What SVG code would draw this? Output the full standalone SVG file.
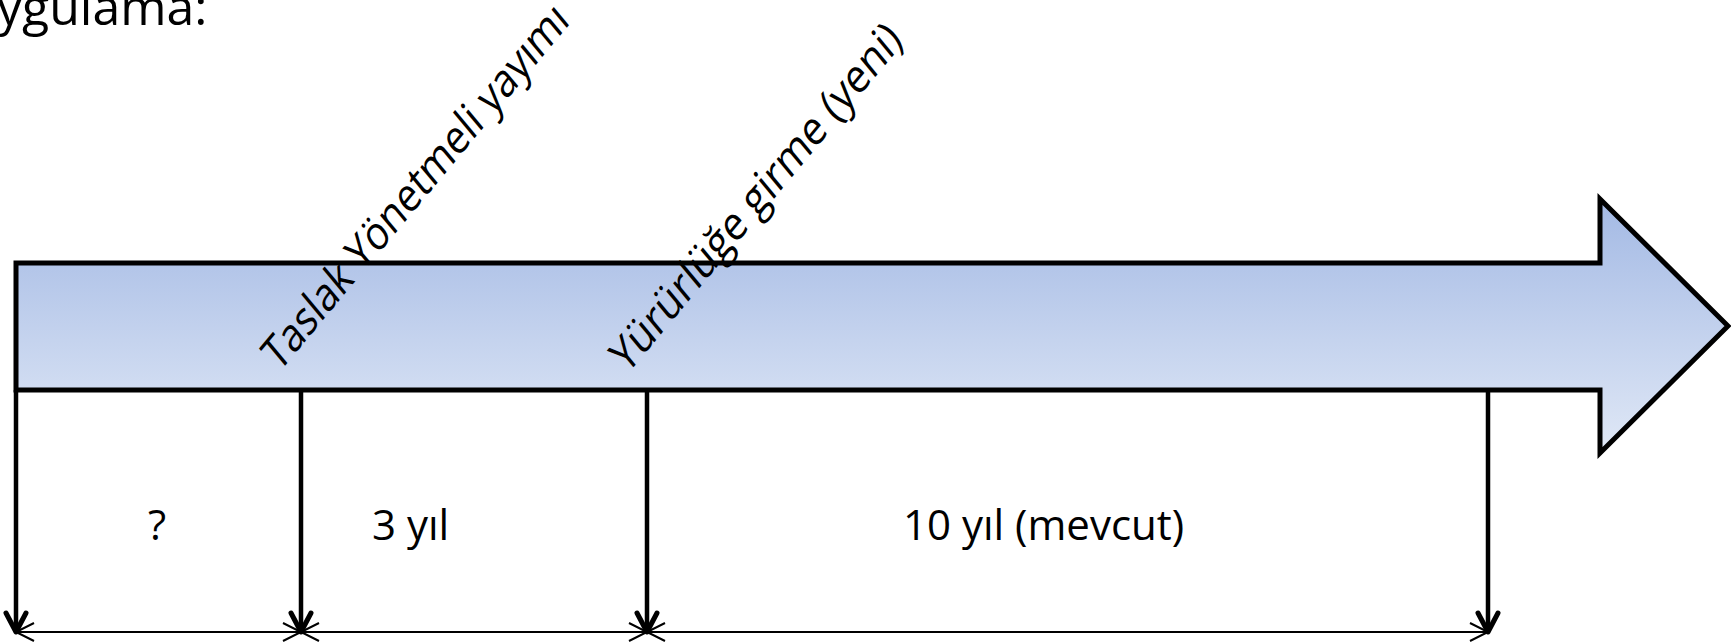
<svg xmlns="http://www.w3.org/2000/svg" width="1731" height="644" viewBox="0 0 1731 644">
<style>
.t{font-family:"Open Sans","Liberation Sans",sans-serif;fill:#000}
.lbl{font-size:42px}
.rot{font-size:40px}
.ttl{font-size:50px}
.vl{stroke:#000;stroke-width:4.5;fill:none}
.hl{stroke:#000;stroke-width:2;fill:none}
</style>
<defs>
<linearGradient id="g" x1="0" y1="0" x2="0" y2="1">
<stop offset="0" stop-color="#a3b9e4"/>
<stop offset="1" stop-color="#e0e8f6"/>
</linearGradient>
<marker id="mv" viewBox="-25 -25 50 50" refX="0" refY="0" markerWidth="50" markerHeight="50" markerUnits="userSpaceOnUse" orient="auto">
<path d="M-19,-10 L0,0 L-19,10" fill="none" stroke="#000" stroke-width="5" stroke-linejoin="round" stroke-linecap="round"/>
</marker>
<marker id="mh" viewBox="-25 -25 50 50" refX="0" refY="0" markerWidth="50" markerHeight="50" markerUnits="userSpaceOnUse" orient="auto-start-reverse">
<path d="M-18,-9 L0,0 L-18,9" fill="none" stroke="#000" stroke-width="2"/>
</marker>
</defs>
<text class="t ttl" x="-3" y="25">ygulama:</text>
<g id="timeline">
<path d="M16,263 H1600 V199 L1728,326 L1600,453 V390 H16 Z" fill="url(#g)" stroke="#000" stroke-width="5" stroke-linejoin="miter"/>
</g>
<g id="label-taslak">
<text class="t rot" transform="translate(279,373) scale(1,1.2) rotate(-45)" textLength="413" lengthAdjust="spacingAndGlyphs">Taslak Yönetmeli yayımı</text>
</g>
<g id="label-yururluk">
<text class="t rot" transform="translate(627,375) scale(1,1.2) rotate(-45)" textLength="392" lengthAdjust="spacingAndGlyphs">Yürürlüğe girme (yeni)</text>
</g>
<g id="connectors">
<line class="vl" x1="16" y1="390" x2="16" y2="632" marker-end="url(#mv)"/>
<line class="vl" x1="301" y1="390" x2="301" y2="632" marker-end="url(#mv)"/>
<line class="vl" x1="647" y1="390" x2="647" y2="632" marker-end="url(#mv)"/>
<line class="vl" x1="1488" y1="390" x2="1488" y2="632" marker-end="url(#mv)"/>
<line class="hl" x1="16" y1="632" x2="301" y2="632" marker-start="url(#mh)" marker-end="url(#mh)"/>
<line class="hl" x1="301" y1="632" x2="647" y2="632" marker-start="url(#mh)" marker-end="url(#mh)"/>
<line class="hl" x1="647" y1="632" x2="1488" y2="632" marker-start="url(#mh)" marker-end="url(#mh)"/>
</g>
<g id="period-1"><text class="t lbl" x="157" y="540" text-anchor="middle">?</text></g>
<g id="period-2"><text class="t lbl" x="372" y="540">3 yıl</text></g>
<g id="period-3"><text class="t lbl" x="903" y="540">10 yıl (mevcut)</text></g>
</svg>
